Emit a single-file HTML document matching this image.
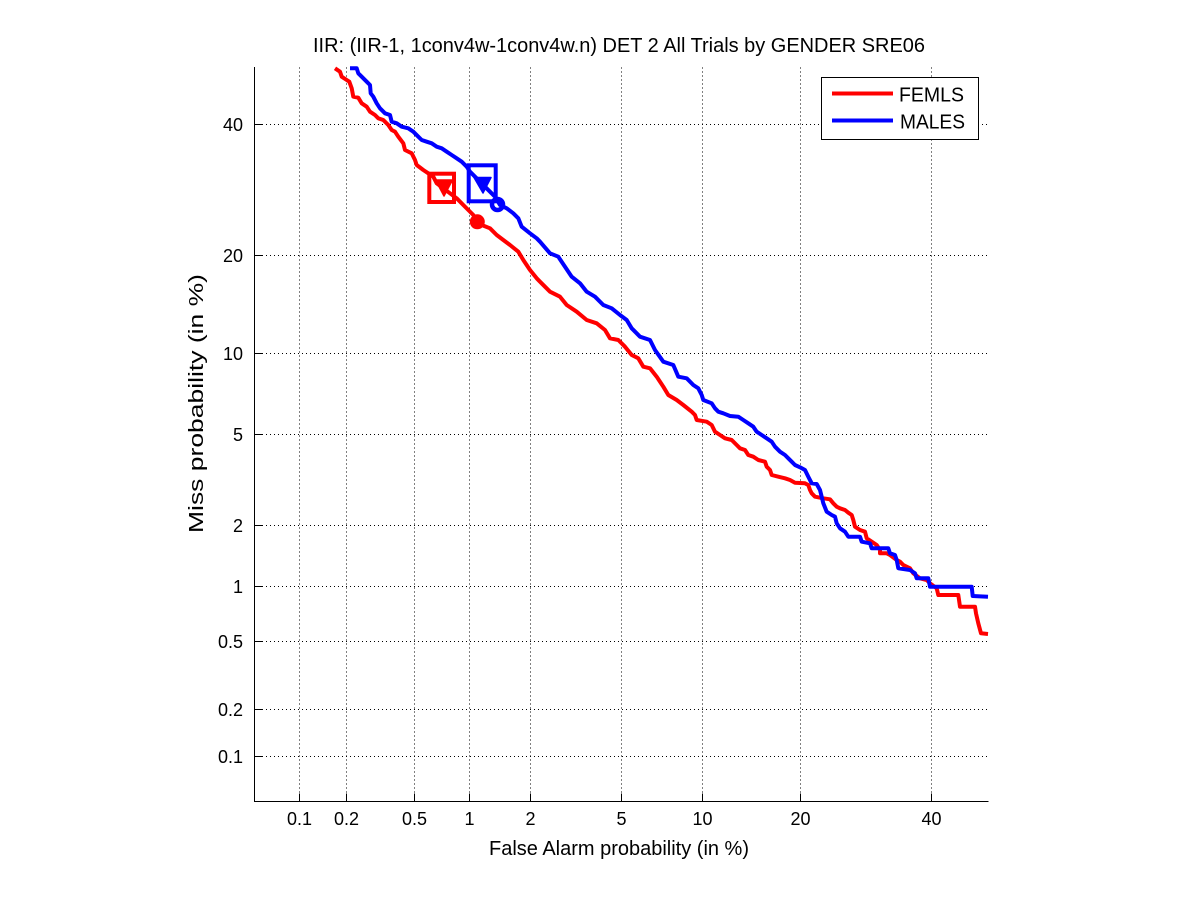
<!DOCTYPE html>
<html>
<head>
<meta charset="utf-8">
<style>
  html, body { margin: 0; padding: 0; background: #ffffff; }
  svg { display: block; }
  text { font-family: "Liberation Sans", Arial, sans-serif; fill: #000; }
</style>
</head>
<body>
<svg width="1201" height="900" viewBox="0 0 1201 900" xmlns="http://www.w3.org/2000/svg">
  <rect x="0" y="0" width="1201" height="900" fill="#ffffff"/>

  <!-- grid -->
  <g stroke="#000" stroke-width="1" stroke-dasharray="1,3" fill="none">
    <line x1="299.5" y1="67.5" x2="299.5" y2="801"/>
    <line x1="346.5" y1="67.5" x2="346.5" y2="801"/>
    <line x1="414.5" y1="67.5" x2="414.5" y2="801"/>
    <line x1="469.5" y1="67.5" x2="469.5" y2="801"/>
    <line x1="530.5" y1="67.5" x2="530.5" y2="801"/>
    <line x1="621.5" y1="67.5" x2="621.5" y2="801"/>
    <line x1="702.5" y1="67.5" x2="702.5" y2="801"/>
    <line x1="800.5" y1="67.5" x2="800.5" y2="801"/>
    <line x1="931.5" y1="67.5" x2="931.5" y2="801"/>

    <line x1="254" y1="124.5" x2="988" y2="124.5"/>
    <line x1="254" y1="255.5" x2="988" y2="255.5"/>
    <line x1="254" y1="353.5" x2="988" y2="353.5"/>
    <line x1="254" y1="434.5" x2="988" y2="434.5"/>
    <line x1="254" y1="525.5" x2="988" y2="525.5"/>
    <line x1="254" y1="586.5" x2="988" y2="586.5"/>
    <line x1="254" y1="641.5" x2="988" y2="641.5"/>
    <line x1="254" y1="709.5" x2="988" y2="709.5"/>
    <line x1="254" y1="756.5" x2="988" y2="756.5"/>
  </g>

  <!-- axes -->
  <g stroke="#000" stroke-width="1" fill="none">
    <line x1="254.5" y1="67" x2="254.5" y2="801.5"/>
    <line x1="254" y1="801.5" x2="988.5" y2="801.5"/>
    <!-- x ticks -->
    <line x1="299.5" y1="801" x2="299.5" y2="793.5"/>
    <line x1="346.5" y1="801" x2="346.5" y2="793.5"/>
    <line x1="414.5" y1="801" x2="414.5" y2="793.5"/>
    <line x1="469.5" y1="801" x2="469.5" y2="793.5"/>
    <line x1="530.5" y1="801" x2="530.5" y2="793.5"/>
    <line x1="621.5" y1="801" x2="621.5" y2="793.5"/>
    <line x1="702.5" y1="801" x2="702.5" y2="793.5"/>
    <line x1="800.5" y1="801" x2="800.5" y2="793.5"/>
    <line x1="931.5" y1="801" x2="931.5" y2="793.5"/>
    <!-- y ticks -->
    <line x1="254" y1="124.5" x2="262" y2="124.5"/>
    <line x1="254" y1="255.5" x2="262" y2="255.5"/>
    <line x1="254" y1="353.5" x2="262" y2="353.5"/>
    <line x1="254" y1="434.5" x2="262" y2="434.5"/>
    <line x1="254" y1="525.5" x2="262" y2="525.5"/>
    <line x1="254" y1="586.5" x2="262" y2="586.5"/>
    <line x1="254" y1="641.5" x2="262" y2="641.5"/>
    <line x1="254" y1="709.5" x2="262" y2="709.5"/>
    <line x1="254" y1="756.5" x2="262" y2="756.5"/>
  </g>

  <!-- tick labels -->
  <g font-size="18" text-anchor="middle">
    <text x="299.5" y="825">0.1</text>
    <text x="346.5" y="825">0.2</text>
    <text x="414.5" y="825">0.5</text>
    <text x="469.5" y="825">1</text>
    <text x="530.5" y="825">2</text>
    <text x="621.5" y="825">5</text>
    <text x="702.5" y="825">10</text>
    <text x="800.5" y="825">20</text>
    <text x="931.5" y="825">40</text>
  </g>
  <g font-size="18" text-anchor="end">
    <text x="243" y="131">40</text>
    <text x="243" y="262">20</text>
    <text x="243" y="360">10</text>
    <text x="243" y="441">5</text>
    <text x="243" y="532">2</text>
    <text x="243" y="593">1</text>
    <text x="243" y="648">0.5</text>
    <text x="243" y="716">0.2</text>
    <text x="243" y="763">0.1</text>
  </g>

  <!-- title & labels -->
  <text x="313" y="52" font-size="20" textLength="612" lengthAdjust="spacingAndGlyphs">IIR: (IIR-1, 1conv4w-1conv4w.n) DET 2 All Trials by GENDER SRE06</text>
  <text x="489" y="855" font-size="20" textLength="260" lengthAdjust="spacingAndGlyphs">False Alarm probability (in %)</text>
  <text transform="translate(203,533) rotate(-90)" x="0" y="0" font-size="20" textLength="259" lengthAdjust="spacingAndGlyphs">Miss probability (in %)</text>

  <!-- curves -->
  <polyline fill="none" stroke="#ff0000" stroke-width="4" stroke-linejoin="round" stroke-linecap="butt" points="
    335,68.3 340,71.7 341.7,76.7 346.7,80 349.3,81.7 351.7,88.3 353.3,96.7 358.3,97.7 361.7,103.3 366.7,106.7 370,111.7 375,115 378.3,118.3 383.3,120 388.3,125 391.7,130 395,131.7 398.3,136.7 403.3,143.3 405,150 411.7,153.3 415,160 416.7,165 423.3,170 428.3,173.3 433.3,176.7 436.7,183.3 443.3,188.3 450,193.3 456.7,198.3 463.3,205 468.3,210 473.3,215 476.7,220 481.7,225 490,228.3 496.7,235 503.3,240 510,245 518.3,251.7 523.3,260 530,270 536.7,278.3 540,281.7 550,291.7 560,296.7 566.7,305 576.7,311.7 586.7,320 596.7,323.3 605,330 610,338.3 618.3,340 625,346.7 631.7,355 638.3,358.3 643.3,366.7 650,368.3 656.7,376.7 663.3,386.7 668.3,395 676.7,400 683.3,405 691.7,411.7 695,415 696.7,420 706.7,421.7 711.7,425 715,431.7 720,435 725,438.3 731.7,440 736.7,445 740,448.3 745,450 748.3,455 753.3,456.7 758.3,460 765,461.7 766.7,466.7 770,470 771.7,475 778.3,476.7 785,478.3 790,480 795,482.7 805,483.3 808.3,485 810,490 811.7,493.3 815,496.7 823.3,498.3 830,499.3 833.3,503.3 836.7,506.7 840,508.3 845,510 848.3,512.7 851.7,515 853.3,520 855,526.7 860,530 865,531.7 866.7,538.3 871.7,541.7 876.7,545 880,550 880,553.3 886.7,553.3 890,555 896.7,560 900,561.7 903.3,565 910,568.3 913.3,573.3 920,578.3 926.7,580 930,583.3 936.7,588.3 938.3,595 958.3,595 960,606.7 975,606.7 976,613.3 978.3,623.3 981,633.3 988,634"/>

  <polyline fill="none" stroke="#0000ff" stroke-width="4" stroke-linejoin="round" stroke-linecap="butt" points="
    350,68.3 356.7,68.3 358.3,73.3 361.7,76.7 366.7,81.7 370,85 370.7,93.3 373.3,96.7 376.7,103.3 380,108.3 385,113.3 390,115 391.7,121.7 396.7,123.3 401.7,126.7 408.3,128.3 413.3,131.7 418.3,136.7 421.7,140 426.7,141.7 431.7,143.3 436.7,146.7 441.7,148.3 446.7,151.7 451.7,155 456.7,158.3 461.7,161.7 466.7,166.7 470,171.7 475,176.7 480,181.7 485,186.7 490,191.7 495,196.7 500,205 506.7,208.3 513.3,213.3 518.3,218.3 521.7,226.7 530,233.3 536.7,238.3 540,241.7 550,253.3 558.3,256.7 565,266.7 571.7,276.7 580,283.3 586.7,291.7 595,296.7 603.3,305 611.7,308.3 620,315 626.7,320 631.7,328.3 640,336.7 650,340 655,350 663.3,361.7 673.3,365 678.3,376.7 686.7,378.3 693.3,385 698.3,388.3 701.7,395 703.3,400 711.7,403.3 715,408.3 718.3,411.7 723.3,413.3 730,416 738.3,416.7 743.3,420 748.3,423.3 753.3,426.7 756.7,431.7 761.7,435 766.7,438.3 771.7,441.7 775,446.7 780,451.7 785,455 788.3,458.3 791.7,461.7 795,465 800,467.3 805,470 808.3,476.7 811.7,483.3 816.7,484 820,490 821.7,496.7 823.3,503.3 826.7,511.7 831.7,515 835,516.7 836.7,523.3 840,528.3 845,531.7 848.3,536.7 860,536.7 861.7,541.7 870,543.3 871.7,548.3 888.3,548.3 890,553.3 895,555 896.7,560 898.3,568.3 910,570 915,573.3 916.7,578.3 928.3,578.3 930,586.7 971.7,586.7 972.7,596 988,596.7"/>

  <!-- markers -->
  <rect x="429.3" y="173.7" width="24.7" height="28.3" fill="none" stroke="#ff0000" stroke-width="4"/>
  <polygon points="435.5,180 452.5,180 444,196" fill="#ff0000" stroke="#ff0000" stroke-width="1.5" stroke-linejoin="round"/>
  <circle cx="477.3" cy="221.8" r="6.5" fill="#ff0000" stroke="#ff0000" stroke-width="2"/>

  <rect x="468.7" y="165.3" width="27" height="36" fill="none" stroke="#0000ff" stroke-width="4"/>
  <polygon points="474,177.5 491,177.5 483,193" fill="#0000ff" stroke="#0000ff" stroke-width="1.5" stroke-linejoin="round"/>
  <circle cx="497.5" cy="204.5" r="5.5" fill="none" stroke="#0000ff" stroke-width="4.5"/>

  <!-- legend -->
  <rect x="821.5" y="77.5" width="157" height="62" fill="#ffffff" stroke="#000" stroke-width="1"/>
  <line x1="832" y1="93.5" x2="893" y2="93.5" stroke="#ff0000" stroke-width="4"/>
  <line x1="832" y1="120.5" x2="893" y2="120.5" stroke="#0000ff" stroke-width="4"/>
  <text x="899" y="101.7" font-size="20" textLength="65" lengthAdjust="spacingAndGlyphs">FEMLS</text>
  <text x="900" y="128.7" font-size="20" textLength="65" lengthAdjust="spacingAndGlyphs">MALES</text>
</svg>
</body>
</html>
